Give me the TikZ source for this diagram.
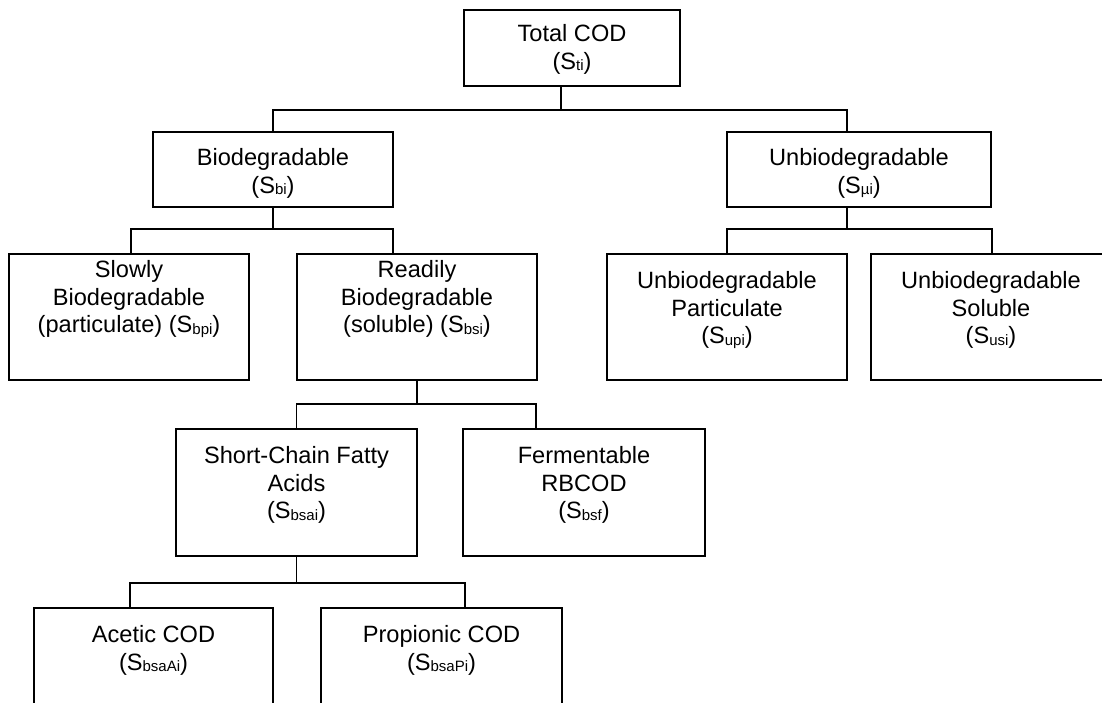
\documentclass[tikz,border=0pt]{standalone}
\usepackage{fontspec}
\setmainfont{Liberation Sans}
\usetikzlibrary{calc}
\newcommand\sbs[1]{\raisebox{-1.5pt}{\fontsize{15}{15}\selectfont #1}}
\tikzset{
  box/.style={draw, line width=1.6pt, rectangle, inner sep=0pt, minimum width=#1},
  lbl/.style={anchor=north, inner sep=0pt, align=center, font=\fontsize{23.6}{27.5}\selectfont},
  conn/.style={line width=1.6pt}
}
\begin{document}
\begin{tikzpicture}[x=1pt, y=-1pt]
\clip (0,0) rectangle (1102,702);
% boxes
\node[box=216, minimum height=76] (total) at (572,48) {};
\node[box=240, minimum height=75] (bio) at (273,169.5) {};
\node[box=264, minimum height=75] (unbio) at (859,169.5) {};
\node[box=240, minimum height=126] (slow) at (129,317) {};
\node[box=240, minimum height=126] (ready) at (417,317) {};
\node[box=240, minimum height=126] (upart) at (727,317) {};
\node[box=240, minimum height=126] (usol) at (991,317) {};
\node[box=241, minimum height=127] (scfa) at (296.5,492.5) {};
\node[box=242, minimum height=127] (ferm) at (584,492.5) {};
\node[box=239, minimum height=126] (acetic) at (153.5,671) {};
\node[box=241, minimum height=126] (prop) at (441.5,671) {};
% labels
\node[lbl] (ltotal) at ($(total.north)+(0,15)$) {Total COD\\(S\sbs{ti})};
\node[lbl] (lbio) at ($(bio.north)+(0,17)$) {Biodegradable\\(S\sbs{bi})};
\node[lbl] (lunbio) at ($(unbio.north)+(0,17)$) {Unbiodegradable\\(S\sbs{µi})};
\node[lbl] (lslow) at ($(slow.north)+(0,7)$) {Slowly\\Biodegradable\\(particulate) (S\sbs{bpi})};
\node[lbl] (lready) at ($(ready.north)+(0,7)$) {Readily\\Biodegradable\\(soluble) (S\sbs{bsi})};
\node[lbl] (lupart) at ($(upart.north)+(0,18)$) {Unbiodegradable\\Particulate\\(S\sbs{upi})};
\node[lbl] (lusol) at ($(usol.north)+(0,18)$) {Unbiodegradable\\Soluble\\(S\sbs{usi})};
\node[lbl] (lscfa) at ($(scfa.north)+(0,18)$) {Short-Chain Fatty\\Acids\\(S\sbs{bsai})};
\node[lbl] (lferm) at ($(ferm.north)+(0,18)$) {Fermentable\\RBCOD\\(S\sbs{bsf})};
\node[lbl] (lacetic) at ($(acetic.north)+(0,18)$) {Acetic COD\\(S\sbs{bsaAi})};
\node[lbl] (lprop) at ($(prop.north)+(0,18)$) {Propionic COD\\(S\sbs{bsaPi})};
% connectors
\draw[conn] ($(total.south)+(-11,0)$) |- ($(bio.north)+(0,-21)$) -- (bio.north);
\draw[conn] ($(total.south)+(-11,0)$) |- ($(unbio.north)+(-12,-21)$) -- ($(unbio.north)+(-12,0)$);
\draw[conn] (bio.south) |- ($(slow.north)+(2,-24)$) -- ($(slow.north)+(2,0)$);
\draw[conn] (bio.south) |- ($(ready.north)+(-24,-24)$) -- ($(ready.north)+(-24,0)$);
\draw[conn] ($(unbio.south)+(-12,0)$) |- ($(upart.north)+(0,-24)$) -- (upart.north);
\draw[conn] ($(unbio.south)+(-12,0)$) |- ($(usol.north)+(1,-24)$) -- ($(usol.north)+(1,0)$);
\draw[conn] (ready.south) |- ($(scfa.north)+(0,-24)$) -- (scfa.north);
\draw[conn] (ready.south) |- ($(ferm.north)+(-48,-24)$) -- ($(ferm.north)+(-48,0)$);
\draw[conn] (scfa.south) |- ($(acetic.north)+(-23.5,-24)$) -- ($(acetic.north)+(-23.5,0)$);
\draw[conn] (scfa.south) |- ($(prop.north)+(23.5,-24)$) -- ($(prop.north)+(23.5,0)$);
\end{tikzpicture}
\end{document}
